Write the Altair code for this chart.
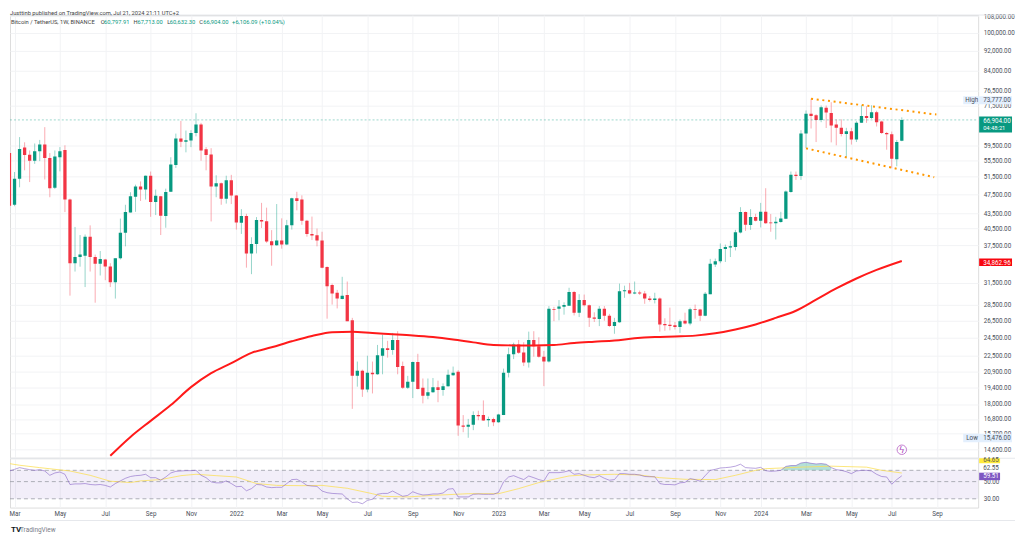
import altair as alt
import pandas as pd

# ---------- data ----------
opens = [57400,45200,50970,58900,56950,55400,57900,59700,56100,48900,56300,58200,46300,34500,35500,35700,39000,35500,34400,35100,
34000,31600,35300,39700,43600,46900,49200,48500,51700,45800,47000,42900,48000,54300,61400,60500,60800,63000,65500,58400,
57000,49200,49900,46500,50600,47200,41600,42900,36100,37700,42150,41900,38200,37500,38300,37600,41100,46600,46300,42000,
39500,39250,38300,33900,31200,30100,29250,29800,26500,20500,21000,19250,20800,20650,22500,23300,23100,24200,21450,19400,
19950,21850,19400,18700,19000,19450,19200,19550,20550,20900,16300,16200,16350,17100,17100,16700,16800,16550,17100,20800,
22650,23700,22850,21800,24200,23500,22400,21900,27900,27950,28200,28350,30200,27450,29100,28400,26850,26650,27950,27050,
25800,26250,30300,30450,30000,30150,30000,29300,29100,29300,26050,25950,25900,25700,26450,26100,27900,27850,27050,29900,
34300,34800,36850,37100,37200,39750,43700,41150,42700,42000,43750,41650,41500,41750,42350,47950,51900,51600,62800,68800,
68400,66900,70800,69100,65500,64550,62700,63500,61100,66000,68100,67500,69300,66400,63000,62600,55800,60797.91]
highs = [57500,52600,61800,60330,58100,60000,61000,64700,57400,58100,59000,59500,46500,40800,39300,39400,41100,35900,36500,35200,
34500,35300,42400,45200,47900,49600,50350,51750,52700,48500,47100,48700,56300,62800,66600,63700,63800,69000,66000,59000,
58700,51800,50100,51700,51900,47300,44300,43350,38900,42700,45600,44600,40200,45350,42450,42150,46700,48000,47200,42150,
42800,40500,39900,34000,31400,30500,32400,31700,26800,21900,21100,22500,21900,23650,24800,24100,25000,25200,21900,20500,
21900,22700,20250,20250,20300,20050,19800,21100,21400,21050,17100,16800,17400,17450,18300,16980,16900,17200,21200,23350,
23900,24200,23950,25150,25200,24500,23000,28300,28200,29100,28800,30800,30350,29900,29850,28500,27500,28300,28300,27300,
26800,31400,31100,31500,31700,30400,30350,29650,30100,29450,26750,28100,26300,26600,27450,28100,28500,27950,30200,35200,
35250,37800,37600,38250,40250,44700,43800,44300,43350,45600,48800,43300,42750,43750,48300,52700,52700,63800,69900,73777,
68700,71500,71500,72600,67100,67100,64500,64500,66500,71600,71300,71600,69800,66700,63300,63400,61000,67713]
lows = [43000,44900,49000,53000,50200,54600,55300,50800,46800,48600,52750,43700,29700,33200,33950,30900,33200,28750,32600,31900,
30900,29300,35100,37300,43600,43750,46000,46300,42750,43100,39300,40650,47950,53600,59000,57600,59000,62000,55400,53000,
41850,46800,45200,45450,45350,40300,39500,33800,32800,36100,40600,37900,34100,37400,36900,37500,40300,44050,41200,39000,
38400,37300,33700,26700,28500,28000,29200,26400,17600,19500,18600,19000,18900,20600,20650,22300,22600,20650,19300,19300,
18500,19250,18050,18400,18950,18150,18700,19500,20500,15540,15800,15400,15950,16700,16650,16200,16250,16500,17100,20350,
22150,22700,21450,21300,22400,22300,19550,21800,26400,26500,27200,28350,27100,26900,28250,25700,26300,25800,26450,25700,
24900,26200,29400,29900,29900,29800,28600,28900,28650,25150,25250,25300,25400,25000,26000,25900,26700,26400,27000,29900,
33900,34500,34700,35500,36600,39600,40050,40250,41850,40700,41400,39900,38500,41600,42300,47800,50700,50700,58700,64300,
60400,66200,64450,60300,59500,62000,56300,59700,60400,66000,66000,67200,64900,62700,58300,53500,54000,60632.3]
closes = [45000,51000,58500,56900,55400,57900,59700,56100,48800,56500,57900,46300,34500,35500,35900,39000,35500,34400,35200,34000,
31600,35300,39700,43700,47000,49200,48500,51700,45800,47100,42950,47950,54450,61400,60500,60900,63000,65500,58100,56900,
49200,49900,46500,50600,47200,41650,42900,36100,37700,42150,41850,38150,37500,38300,37600,41100,46600,46000,42000,39500,
39200,38300,33800,31000,30000,29300,29700,26400,20500,21000,19250,20800,20650,22550,23300,23100,24200,21350,19400,19950,
21850,19300,18700,19000,19450,19200,19550,20600,20800,16300,16200,16350,17100,17000,16680,16800,16550,17150,20800,22650,
23700,22800,21800,24200,23500,22400,21900,27950,27800,28250,28450,30200,27450,29100,28400,26800,26700,27950,27050,25800,
26300,30300,30450,30000,30150,30000,29300,29100,29300,26000,25900,25800,25700,26400,26100,27900,27800,27050,29950,34400,
34800,36850,37200,37300,39800,43700,41200,42700,42000,43750,41500,41500,41800,42400,48050,51900,51600,62800,68800,68100,
66850,70900,69200,65200,64550,62700,63500,61100,66000,68100,67500,69300,66200,63000,62600,55900,60400,66904]
ma_idx = [20,24,28,32,36,40,44,48,52,56,60,64,68,72,76,80,84,88,92,96,100,104,108,112,116,120,124,128,132,136,140,144,148,152,156,160,164,168,172,177]
ma_vals = [14170,15460,16650,17910,19460,20760,21740,22800,23390,24050,24650,25080,25130,24980,24850,24710,24520,24250,23930,23650,23600,23600,23650,23860,24000,24130,24380,24530,24600,24690,24950,25400,26000,26800,27700,29150,30700,32150,33450,34862.96]
rsi_vals = [68.6,72.0,75.8,73.5,71.4,70.0,71.4,68.6,60.3,64.7,66.6,62.2,45.9,46.7,46.7,47.2,45.9,45.4,45.9,44.7,
42.6,47.2,51.1,55.2,58.2,59.7,60.3,62.2,56.2,56.2,52.1,57.4,64.7,67.9,68.6,69.3,69.3,70.0,60.3,56.2,
49.6,48.2,48.2,51.1,47.2,43.0,43.4,38.1,40.6,45.9,45.4,42.6,41.8,42.2,42.2,47.2,53.1,53.6,49.6,44.7,
43.8,43.4,37.8,36.0,35.2,34.9,34.6,30.0,26.9,27.2,25.9,28.6,29.6,34.3,35.2,35.2,37.8,34.9,32.3,33.2,
37.0,34.9,33.6,33.9,34.6,34.6,35.6,39.9,40.6,31.7,31.7,31.7,34.3,34.6,34.3,34.3,34.3,36.3,49.6,57.4,
59.7,56.2,53.1,59.1,56.2,53.1,51.1,65.3,65.3,65.3,66.6,69.3,62.2,63.4,60.3,57.4,56.2,59.7,55.2,52.1,
53.1,63.4,63.4,62.2,62.2,60.9,58.2,57.8,57.8,47.2,45.9,45.9,45.4,48.2,48.9,54.7,53.1,50.6,59.7,70.0,
72.1,75.0,75.8,76.9,79.2,83.9,75.8,75.0,74.3,76.4,69.3,67.9,68.6,70.0,78.6,80.7,80.7,87.0,88.9,86.2,
84.6,85.5,83.9,75.8,71.4,70.0,67.2,63.4,68.6,70.0,70.0,68.6,62.2,58.2,57.4,46.3,53.1,59.51]
sig_idx = [0,2,6,12,16,20,24,26,30,34,37,41,45,49,53,58,62,67,72,74,79,84,91,97,101,105,111,114,120,125,129,134,140,144,148,150,157,163,170,173,177]
sig_vals = [85.4,81.4,75.8,68.6,60.3,50.6,48.6,51.1,53.1,59.7,62.2,59.7,57.4,47.2,44.7,44.3,44.7,41.0,34.9,32.3,31.7,33.2,34.9,34.9,40.6,48.6,59.2,60.9,62.2,60.9,56.2,53.6,53.1,60.3,70.0,73.5,76.9,79.2,76.9,70.0,64.65]
tick_dates = ["2021-03-01","2021-05-03","2021-07-05","2021-09-06","2021-11-01","2022-01-03","2022-03-07","2022-05-02","2022-07-04","2022-09-05","2022-11-07","2023-01-02","2023-03-06","2023-05-01","2023-07-03","2023-09-04","2023-11-06","2024-01-01","2024-03-04","2024-05-06","2024-07-01","2024-09-02"]
price_ticks = [108000,100000,92000,84000,76500,71500,59500,55500,51500,47500,43500,40500,37500,31500,28500,26500,24500,22500,20900,19400,18000,16800,15700,14600]
upper_dates = ["2024-03-11","2024-09-01"]; upper_vals = [73800,68590]
lower_dates = ["2024-03-04","2024-08-29"]; lower_vals = [58660,51340]

# ---------- frames ----------
GREEN = "#089981"; RED = "#f23645"
dates = pd.date_range("2021-02-22", periods=len(closes), freq="7D")
iso = dates.strftime("%Y-%m-%dT00:00:00Z").tolist()
df = pd.DataFrame({"d": iso, "o": opens, "h": highs, "l": lows, "c": closes, "r": rsi_vals})
df["col"] = [GREEN if c >= o else RED for o, c in zip(opens, closes)]
ma_df = pd.DataFrame({"d": [iso[i] for i in ma_idx], "v": ma_vals})
sig_df = pd.DataFrame({"d": [iso[i] for i in sig_idx], "v": sig_vals})
up_df = pd.DataFrame({"d": [x + "T00:00:00Z" for x in upper_dates], "v": upper_vals})
lo_df = pd.DataFrame({"d": [x + "T00:00:00Z" for x in lower_dates], "v": lower_vals})
ob = pd.DataFrame({"d": iso, "r": rsi_vals}).iloc[153:164]
ob = ob.assign(b=70.0)

tick_ms = [int(pd.Timestamp(t, tz="UTC").timestamp() * 1000) for t in tick_dates]
W, H1, H2 = 972, 444.5, 49.5
XDOM = ["2021-02-22T17:00:00Z", "2024-10-29T00:00:00Z"]
xscale = alt.Scale(type="utc", domain=XDOM, padding=0)
yscale = alt.Scale(type="log", domain=[14040, 108640], nice=False)
rscale = alt.Scale(type="log", domain=[23.1, 100.2], nice=False)
GRID = "#f2f3f5"; FONT = "Roboto"; TXT = "#4a4e59"
dummy = pd.DataFrame({"a": [0]})

x_main = alt.X("d:T", scale=xscale, title=None,
               axis=alt.Axis(values=tick_ms, labels=False, ticks=False, domain=False, grid=True,
                             gridColor=GRID, gridWidth=1))
y_main = alt.Y("o:Q", scale=yscale, title=None,
               axis=alt.Axis(orient="right", values=price_ticks, format=",.2f", tickSize=0, domain=False,
                             grid=True, gridColor=GRID, gridWidth=1, labelFontSize=6.3, labelFont=FONT,
                             labelColor=TXT, labelPadding=5, labelOverlap=False, labelBound=False))

def label(text, x, y, color=TXT, size=6.3, weight="normal", align="left", baseline="middle"):
    return alt.Chart(dummy).mark_text(text=text, fontSize=size, font=FONT, color=color, fontWeight=weight,
                                      align=align, baseline=baseline, clip=False).encode(
        x=alt.value(x), y=alt.value(y))

def box(x, x2, y, y2, color):
    return alt.Chart(dummy).mark_rect(color=color, clip=False).encode(
        x=alt.value(x), x2=alt.value(x2), y=alt.value(y), y2=alt.value(y2))

def hline(y, x=0, x2=1009, color="#e6e8ec"):
    return alt.Chart(dummy).mark_rule(color=color, strokeWidth=1, clip=False).encode(
        x=alt.value(x), x2=alt.value(x2), y=alt.value(y))

base = alt.Chart(df)
bodies = base.mark_bar(size=3.3, clip=True).encode(
    x=x_main, y=y_main, y2="c:Q", color=alt.Color("col:N", scale=None, legend=None))
wicks = base.mark_rule(strokeWidth=1, opacity=0.42, clip=True).encode(
    x=alt.X("d:T", scale=xscale), y=alt.Y("h:Q", scale=yscale), y2="l:Q",
    color=alt.Color("col:N", scale=None, legend=None))
ma_line = alt.Chart(ma_df).mark_line(color="#ff1a1a", strokeWidth=2, clip=True, interpolate="monotone").encode(
    x=alt.X("d:T", scale=xscale), y=alt.Y("v:Q", scale=yscale))
up_line = alt.Chart(up_df).mark_line(color="#ff9800", strokeWidth=2, strokeDash=[2, 3.7]).encode(
    x=alt.X("d:T", scale=xscale), y=alt.Y("v:Q", scale=yscale))
lo_line = alt.Chart(lo_df).mark_line(color="#ff9800", strokeWidth=2, strokeDash=[2, 3.7]).encode(
    x=alt.X("d:T", scale=xscale), y=alt.Y("v:Q", scale=yscale))
last_rule = alt.Chart(pd.DataFrame({"v": [closes[-1]]})).mark_rule(
    color=GREEN, strokeDash=[2, 2], opacity=0.4, strokeWidth=1).encode(
    y=alt.Y("v:Q", scale=yscale), x=alt.value(0), x2=alt.value(W))
bolt_ring = alt.Chart(pd.DataFrame({"d": [iso[-1]], "v": [14570]})).mark_point(
    shape="circle", size=90, color="#ab47bc", strokeWidth=1, filled=False).encode(
    x=alt.X("d:T", scale=xscale), y=alt.Y("v:Q", scale=yscale))
bolt = alt.Chart(pd.DataFrame({"d": [iso[-1]], "v": [14570]})).mark_text(
    text="ϟ", fontSize=9, color="#ab47bc", font="DejaVu Sans").encode(
    x=alt.X("d:T", scale=xscale), y=alt.Y("v:Q", scale=yscale))

HS = 5.8
main = alt.layer(
    bodies, wicks, last_rule, ma_line, up_line, lo_line, bolt_ring, bolt,
    hline(0),
    label("Justtinb published on TradingView.com, Jul 21, 2024 21:11 UTC+2", 0, 1, color="#444", baseline="bottom", size=HS),
    label("Bitcoin / TetherUS, 1W, BINANCE", 1, 7, color="#444", size=HS),
    label("O", 91, 7, color="#444", size=HS), label("60,797.91", 94.5, 7, color=GREEN, size=HS),
    label("H", 124, 7, color="#444", size=HS), label("67,713.00", 128, 7, color=GREEN, size=HS),
    label("L", 158, 7, color="#444", size=HS), label("60,632.30", 160.5, 7, color=GREEN, size=HS),
    label("C", 190, 7, color="#444", size=HS), label("66,904.00", 194, 7, color=GREEN, size=HS),
    label("+6,106.09 (+10.04%)", 223, 7, color=GREEN, size=HS),
    box(957, 1006, 81.5, 89.5, "#e3effd"),
    label("High", 959, 85.3, color=TXT), label("73,777.00", 977, 85.3, color=TXT),
    box(973, 1006, 102, 118, GREEN),
    label("66,904.00", 977, 106.5, color="#ffffff"), label("04:48:21", 977, 113.5, color="#ffffff", size=5.8),
    box(973, 1006, 244.5, 252, "#f7060f"),
    label("34,862.96", 977, 248.5, color="#ffffff"),
    box(957, 1006, 420.5, 429, "#e3effd"),
    label("Low", 960, 425, color=TXT), label("15,476.00", 977, 425, color=TXT),
).properties(width=W, height=H1)

# ---------- RSI ----------
x_rsi = alt.X("d:T", scale=xscale, title=None,
              axis=alt.Axis(values=tick_ms, tickSize=0, domain=False, grid=True, gridColor=GRID, gridWidth=1,
                            labelFontSize=6.3, labelFont=FONT, labelColor=TXT, labelPadding=3,
                            labelFlush=False, labelOverlap=False,
                            labelExpr="utcmonth(datum.value)==0 ? utcFormat(datum.value,'%Y') : utcFormat(datum.value,'%b')"))
y_rsi = alt.Y("r:Q", scale=rscale, title=None,
              axis=alt.Axis(orient="right", values=[30, 50], format=".2f", tickSize=0, domain=False, grid=False,
                            labelFontSize=6.3, labelFont=FONT, labelColor=TXT, labelPadding=5))
band = alt.Chart(dummy).mark_rect(color="#7e57c2", opacity=0.1).encode(
    x=alt.value(0), x2=alt.value(W), y=alt.datum(70, scale=rscale), y2=alt.datum(30))
def dash(v):
    return alt.Chart(pd.DataFrame({"v": [v]})).mark_rule(color="#9a9ca6", strokeDash=[4, 3], strokeWidth=1, opacity=0.8).encode(
        y=alt.Y("v:Q", scale=rscale), x=alt.value(0), x2=alt.value(W))
ob_area = alt.Chart(ob).mark_area(color=GREEN, opacity=0.3, interpolate="linear", clip=True).transform_calculate(
    top="max(datum.r,70)").encode(x=alt.X("d:T", scale=xscale), y=alt.Y("top:Q", scale=rscale), y2="b:Q")
axis_holder = alt.Chart(df).mark_line(opacity=0, clip=True).encode(x=x_rsi, y=y_rsi)
sig_line = alt.Chart(sig_df).mark_line(color="#fbdf5a", strokeWidth=1, opacity=0.8, clip=True).encode(
    x=alt.X("d:T", scale=xscale), y=alt.Y("v:Q", scale=rscale))
rsi_line = alt.Chart(df).mark_line(color="#7e57c2", strokeWidth=1, opacity=0.55, clip=True).encode(
    x=alt.X("d:T", scale=xscale), y=alt.Y("r:Q", scale=rscale))

rsi = alt.layer(
    axis_holder, band, dash(70), dash(50), dash(30), ob_area, sig_line, rsi_line,
    hline(0), hline(62.5),
    label("62.55", 977, 9.5),
    box(973, 994, 0, 5, "#ffeb3b"), label("64.65", 977, 2, color="#555"),
    box(973, 994, 14.5, 22, "#7e57c2"), label("59.51", 977, 17.8, color="#ffffff"),
    label("TV", 1, 72.5, color="#131722", size=8, weight="bold"),
    label("TradingView", 10, 72.5, color="#787b86", size=6.5),
).properties(width=W, height=H2)

chart = alt.vconcat(main, rsi, spacing=0, bounds="flush").resolve_scale(x="independent", y="independent").properties(
    padding=0
).configure_view(strokeWidth=0).configure(background="#ffffff")
chart.save("out.html", embed_options={"renderer": "svg", "actions": False})
